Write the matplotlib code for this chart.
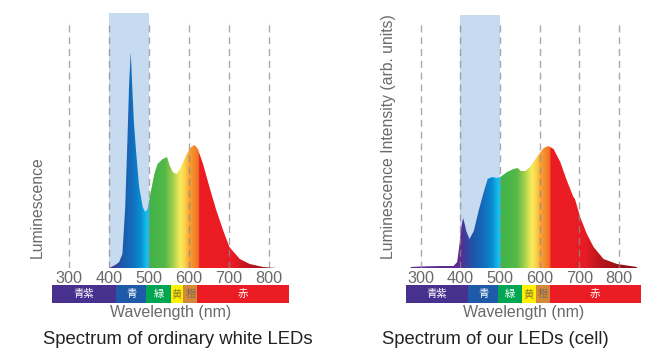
import numpy as np
import matplotlib
matplotlib.use("Agg")
import matplotlib.pyplot as plt
from matplotlib.patches import Polygon
from matplotlib.colors import to_rgb

# ---------------- data ----------------
wl_std = [400, 405, 415, 425, 433, 440, 445, 450, 454, 458, 462, 467, 475, 484, 490, 496,
          505, 513, 521, 534, 545, 551, 559, 569, 580, 593, 605, 614, 622, 635, 651, 668,
          685, 701, 727, 752, 785, 820]
h_std = [0, 1, 3, 6, 14, 60, 120, 185, 216, 178, 145, 118, 81, 61, 56, 59,
         78, 94, 104, 109, 111, 103, 96, 94, 101, 113, 121, 123, 119, 104, 81, 58,
         38, 21, 9, 4, 1, 0]

wl_cell = [275, 300, 350, 383, 392, 398, 403, 407, 411, 415, 423, 434, 446, 459, 469, 480,
           492, 501, 518, 534, 544, 553, 564, 576, 593, 610, 622, 635, 652, 669, 685, 689,
           692, 702, 719, 736, 761, 795, 845]
h_cell = [1, 1.5, 2, 2, 6, 24, 42, 50, 44, 37, 29, 37, 57, 76, 89, 91,
          90, 91, 96, 99, 100, 97, 97, 101, 111, 120, 122, 119, 106, 87, 71, 69,
          65, 51, 34, 21, 9, 4, 1]

xticks = [300, 400, 500, 600, 700, 800]
band_names = ["青紫", "青", "緑", "黄", "橙", "赤"]
bands_std = [257, 418, 493, 554, 586, 621, 850]
bands_cell = [262, 420, 495, 555, 590, 625, 855]
band_colors = ["#48308f", "#1f5aa8", "#00a651", "#fff100", "#d4893a", "#ec1c24"]
band_text_colors = ["white", "white", "white", "#8f7a2e", "#7d6a55", "white"]

# spectral gradient stops (wavelength, colour)
grad_wl = [250, 400, 412, 430, 460, 480, 493, 499.9, 500, 540, 560, 578, 590, 600,
           624.9, 625, 710, 760, 860]
grad_col = ["#5b2c8f", "#5b2c8f", "#3d3f9c", "#1f56a8", "#1170bf", "#0a90d5", "#15bde9",
            "#20c0ec", "#3fb34a", "#55b848", "#a5cf4c", "#f8ec5a", "#fdd04a", "#f8a534",
            "#f26c22", "#ed1c24", "#e81c24", "#b0141c", "#780a0a"]

plt.rcParams['font.family'] = ['Liberation Sans', 'Noto Sans CJK JP', 'DejaVu Sans']

W, H = 652, 352
fig = plt.figure(figsize=(W / 100, H / 100), dpi=100)


def fx(px):
    return px / W


def fy(py):
    return 1 - py / H


def panel(xl, xr, ytop, xlim, wl, h, bands, ylabel, ylab_x, ylab_yc, title, title_x):
    ax = fig.add_axes([fx(xl), fy(268), fx(xr - xl), (268 - ytop) / H])
    top = 268 - ytop
    ax.set_xlim(*xlim)
    ax.set_ylim(0, top)
    # blue band
    ax.axvspan(400, 500, color="#c6daf0", lw=0, zorder=0)
    # gradient fill clipped to spectrum
    grid = np.linspace(xlim[0], xlim[1], 1200)
    rgb = np.array([to_rgb(c) for c in grad_col])
    img = np.stack([np.interp(grid, grad_wl, rgb[:, k]) for k in range(3)], axis=-1)[None, :, :]
    im = ax.imshow(img, extent=[xlim[0], xlim[1], 0, top], aspect="auto", zorder=1,
                   interpolation="bilinear")
    verts = list(zip(wl, h)) + [(wl[-1], 0), (wl[0], 0)]
    poly = Polygon(verts, closed=True, facecolor="none", edgecolor="none")
    ax.add_patch(poly)
    im.set_clip_path(poly)
    # dashed guide lines
    ax.vlines(xticks, 0, top - 7, colors="#8c8c8c", linestyles=(0, (5, 3.5)), lw=1.0,
              alpha=0.75, zorder=2)
    ax.set_xticks(xticks)
    ax.set_xticklabels([str(t) for t in xticks], color="#6a6a6a", fontsize=11.7)
    ax.tick_params(axis="x", length=0, pad=2.0)
    ax.set_yticks([])
    for s in ax.spines.values():
        s.set_visible(False)
    ax.patch.set_alpha(0)
    # colour bar
    cb = fig.add_axes([fx(xl), fy(303), fx(xr - xl), 18 / H])
    cb.set_xlim(*xlim)
    cb.set_ylim(0, 1)
    for i in range(len(band_names)):
        cb.barh(0.5, bands[i + 1] - bands[i], left=bands[i], height=1,
                color=band_colors[i], lw=0)
        cb.text((bands[i] + bands[i + 1]) / 2, 0.5, band_names[i], ha="center", va="center",
                fontsize=7.5, color=band_text_colors[i], family=['Noto Sans CJK JP', 'DejaVu Sans'])
    cb.axis("off")
    fig.text(fx((xl + xr) / 2), fy(312), "Wavelength (nm)", ha="center", va="center",
             fontsize=11.5, color="#6a6a6a")
    fig.text(fx(ylab_x), fy(ylab_yc), ylabel, rotation=90, ha="center", va="center",
             fontsize=11.3, color="#6a6a6a")
    fig.text(fx(title_x), fy(340), title, ha="center", va="center", fontsize=13.3,
             color="#222222")
    return ax


panel(52.1, 288.9, 13, (257, 850), wl_std, h_std, bands_std, "Luminescence", 37, 207,
      "Spectrum of ordinary white LEDs", 177.5)
panel(405.6, 640.8, 15, (262, 855), wl_cell, h_cell, bands_cell,
      "Luminescence Intensity (arb. units)", 388, 137, "Spectrum of our LEDs (cell)", 495)

fig.savefig("out.png", dpi=100)
